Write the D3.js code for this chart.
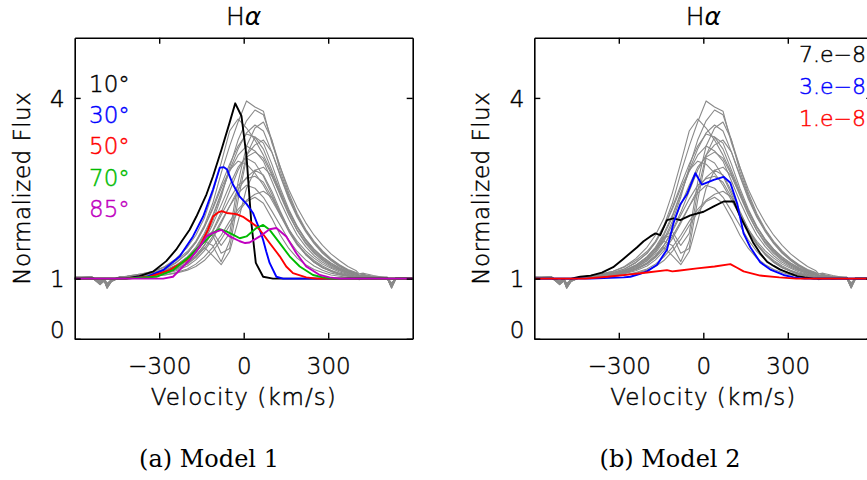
<!DOCTYPE html>
<html>
<head>
<meta charset="utf-8">
<script src="https://cdn.jsdelivr.net/npm/d3@7"></script>
<style>
  body { margin: 0; background: #fff; }
  svg { display: block; }
  text { font-family: "DejaVu Sans", sans-serif; font-weight: 200; }
</style>
</head>
<body>
<svg id="chart" width="867" height="480"></svg>
<script>
// ---------- axes ----------
const velocityDomain = [-600, 600];
const fluxDomain = [0, 5];
const velocityTicks = [-300, 0, 300];
const fluxTicks = [0, 1, 4];

// ---------- observed Hα spectra (shared velocity grid, km/s) ----------
const obsVelocity = [-600,-540,-510,-495,-485,-470,-440,
  -400,-360,-320,-280,-240,-200,-170,-140,-110,-80,-50,-20,10,40,70,100,130,160,190,220,250,280,310,340,370,400,410,425,460,
  510,525,540,600];

const spec01 = [1.01,1.02,0.92,0.97,0.86,0.96,1.02, 1.05,1.08,1.12,1.19,1.30,1.45,1.62,1.88,2.25,2.75,3.20,3.60,3.95,3.85,3.78,3.25,2.85,2.48,2.18,1.93,1.72,1.55,1.41,1.30,1.20,1.13,1.08,1.09,1.05, 1.01,0.86,1.00,1.00];
const spec02 = [1.02,1.01,0.95,0.99,0.90,0.98,1.03, 1.03,1.05,1.08,1.12,1.20,1.32,1.45,1.65,1.95,2.35,2.85,3.30,3.62,3.80,3.72,3.30,2.78,2.38,2.05,1.80,1.60,1.44,1.32,1.22,1.14,1.09,1.05,1.06,1.03, 1.02,0.90,1.01,1.01];
const spec03 = [1.00,1.03,0.90,0.96,0.84,0.95,1.01, 1.05,1.08,1.12,1.20,1.33,1.52,1.72,2.00,2.42,2.92,3.45,3.65,3.50,3.30,3.05,2.75,2.42,2.12,1.86,1.65,1.49,1.36,1.26,1.18,1.12,1.08,1.04,1.06,1.03, 1.00,0.84,0.99,1.00];
const spec04 = [1.01,1.01,0.94,1.00,0.89,0.97,1.02, 1.04,1.06,1.09,1.14,1.22,1.35,1.50,1.72,2.02,2.40,2.80,3.15,3.42,3.55,3.45,3.10,2.70,2.32,2.02,1.78,1.58,1.42,1.30,1.20,1.13,1.08,1.05,1.05,1.02, 1.01,0.92,1.00,1.01];
const spec05 = [1.02,1.02,0.91,0.98,0.87,0.95,1.02, 1.04,1.07,1.10,1.16,1.26,1.42,1.60,1.85,2.18,2.55,2.90,3.20,3.40,3.35,3.15,2.80,2.45,2.12,1.85,1.63,1.46,1.33,1.23,1.15,1.10,1.06,1.03,1.04,1.02, 1.02,0.88,1.01,1.00];
const spec06 = [1.01,1.03,0.93,0.97,0.85,0.97,1.01, 1.02,1.04,1.06,1.10,1.16,1.26,1.38,1.55,1.80,2.10,2.45,2.80,3.05,3.22,3.30,3.10,2.72,2.35,2.04,1.80,1.60,1.44,1.31,1.21,1.14,1.09,1.05,1.06,1.03, 1.00,0.85,1.00,1.01];
const spec07 = [1.00,1.02,0.96,0.99,0.91,0.98,1.02, 1.03,1.05,1.08,1.13,1.22,1.36,1.52,1.75,2.05,2.42,2.78,3.05,3.20,3.12,2.95,2.62,2.28,1.98,1.72,1.53,1.38,1.27,1.19,1.13,1.08,1.05,1.02,1.03,1.01, 1.01,0.91,1.00,1.00];
const spec08 = [1.02,1.01,0.92,0.96,0.88,0.96,1.03, 1.03,1.05,1.07,1.11,1.18,1.29,1.42,1.62,1.90,2.22,2.55,2.85,3.02,3.10,3.00,2.72,2.38,2.06,1.80,1.60,1.44,1.32,1.23,1.16,1.10,1.06,1.03,1.04,1.02, 1.02,0.87,1.01,1.01];
const spec09 = [1.01,1.02,0.94,0.98,0.86,0.97,1.02, 1.04,1.06,1.10,1.16,1.27,1.42,1.60,1.85,2.15,2.50,2.80,2.95,2.90,2.75,2.55,2.30,2.05,1.82,1.62,1.46,1.34,1.24,1.17,1.11,1.07,1.04,1.01,1.02,1.01, 1.00,0.89,1.00,1.00];
const spec10 = [1.01,1.01,0.95,1.00,0.90,0.98,1.01, 1.02,1.03,1.05,1.08,1.13,1.21,1.31,1.46,1.66,1.92,2.20,2.48,2.68,2.80,2.85,2.70,2.40,2.08,1.80,1.58,1.42,1.30,1.21,1.14,1.09,1.06,1.02,1.03,1.02, 1.01,0.93,1.00,1.01];
const spec11 = [1.02,1.02,0.90,0.97,0.84,0.96,1.02, 1.03,1.04,1.06,1.10,1.16,1.26,1.38,1.55,1.78,2.05,2.32,2.55,2.66,2.70,2.60,2.35,2.05,1.78,1.56,1.40,1.28,1.19,1.13,1.08,1.05,1.03,1.00,1.01,1.00, 1.00,0.85,1.00,1.00];
const spec12 = [1.01,1.03,0.94,0.99,0.89,0.97,1.01, 1.03,1.04,1.06,1.09,1.15,1.24,1.35,1.50,1.70,1.95,2.20,2.42,2.55,2.50,2.35,2.12,1.88,1.64,1.45,1.31,1.21,1.14,1.09,1.06,1.04,1.02,0.99,1.01,1.00, 1.01,0.90,1.01,1.00];
const spec13 = [1.00,1.02,0.93,0.98,0.87,0.96,1.02, 1.02,1.03,1.04,1.06,1.10,1.16,1.24,1.36,1.52,1.72,1.95,2.15,2.30,2.40,2.45,2.35,2.10,1.82,1.58,1.40,1.27,1.18,1.12,1.07,1.04,1.03,1.00,1.01,1.00, 1.00,0.87,1.00,1.00];
const spec14 = [1.01,1.01,0.96,1.00,0.92,0.98,1.01, 1.02,1.03,1.04,1.06,1.09,1.14,1.20,1.30,1.45,1.65,1.88,2.10,2.28,2.35,2.25,2.00,1.72,1.50,1.34,1.23,1.15,1.10,1.06,1.04,1.02,1.01,0.98,1.00,1.00, 1.01,0.92,1.00,1.00];
const spec15 = [1.02,1.02,0.91,0.97,0.85,0.95,1.02, 1.03,1.05,1.08,1.13,1.22,1.36,1.50,1.62,1.55,1.28,1.62,2.45,3.05,3.35,3.25,2.90,2.50,2.15,1.87,1.65,1.48,1.35,1.25,1.17,1.11,1.07,1.04,1.05,1.02, 1.01,0.86,1.00,1.01];
const spec16 = [1.01,1.02,0.93,0.98,0.88,0.97,1.02, 1.02,1.04,1.06,1.10,1.18,1.30,1.45,1.68,1.72,1.42,1.50,2.30,3.00,2.92,2.70,2.40,2.08,1.80,1.58,1.42,1.30,1.21,1.14,1.09,1.06,1.03,1.00,1.02,1.01, 1.00,0.89,1.00,1.00];
const spec17 = [1.00,1.01,0.95,0.99,0.90,0.97,1.01, 1.03,1.04,1.06,1.09,1.15,1.24,1.36,1.52,1.38,1.23,1.45,1.95,2.50,2.80,2.72,2.45,2.12,1.82,1.58,1.40,1.27,1.18,1.12,1.08,1.05,1.03,1.00,1.01,1.00, 1.01,0.91,1.01,1.00];
const spec18 = [1.02,1.03,0.92,0.96,0.86,0.96,1.02, 1.03,1.05,1.08,1.12,1.20,1.33,1.48,1.70,1.78,1.55,1.75,2.60,3.20,3.50,3.60,3.30,2.85,2.42,2.08,1.82,1.62,1.46,1.33,1.23,1.15,1.10,1.06,1.07,1.03, 1.01,0.87,1.00,1.00];

const obsSpectra = [spec01, spec02, spec03, spec04, spec05, spec06, spec07, spec08, spec09,
  spec10, spec11, spec12, spec13, spec14, spec15, spec16, spec17, spec18];

// ---------- Model 1: inclination series ----------
const m1Labels = ["10°", "30°", "50°", "70°", "85°"];
const m1Colors = ["#000000", "#0000ff", "#ff0000", "#00bb00", "#c000c0"];

const m1Vel10 = [-600,-420,-370,-320,-275,-240,-220,-192,-168,-132,-109,-79,-50,-30,-8,10,27,43,69,104,600];
const m1Flux10 = [1.0,1.0,1.04,1.12,1.29,1.48,1.62,1.81,2.03,2.40,2.70,3.14,3.59,3.91,3.70,3.03,1.93,1.26,1.03,1.0,1.0];

const m1Vel30 = [-600,-420,-345,-286,-227,-180,-144,-109,-85,-70,-59,-40,-14,10,33,57,69,80,92,116,140,600];
const m1Flux30 = [1.0,1.0,1.03,1.14,1.37,1.70,2.03,2.48,2.84,2.85,2.81,2.58,2.36,2.24,2.09,1.81,1.64,1.45,1.26,1.03,1.0,1.0];

const m1Vel50 = [-600,-420,-334,-263,-203,-156,-127,-109,-90,-78,-60,-26,0,21,45,57,92,128,151,175,222,260,600];
const m1Flux50 = [1.0,1.0,1.03,1.14,1.31,1.53,1.81,2.03,2.10,2.12,2.09,2.07,2.02,1.95,1.87,1.81,1.59,1.37,1.20,1.09,1.02,1.0,1.0];

const m1Vel70 = [-600,-420,-310,-251,-192,-144,-109,-85,-60,-38,-14,10,45,69,92,128,163,199,246,281,317,600];
const m1Flux70 = [1.0,1.0,1.03,1.14,1.37,1.59,1.76,1.82,1.78,1.73,1.67,1.70,1.84,1.89,1.81,1.59,1.37,1.20,1.06,1.02,1.0,1.0];

const m1Vel85 = [-600,-286,-251,-192,-156,-132,-109,-79,-50,-14,5,21,57,92,116,151,187,222,270,305,340,600];
const m1Flux85 = [1.0,1.0,1.03,1.31,1.53,1.70,1.76,1.81,1.70,1.62,1.59,1.60,1.70,1.82,1.84,1.70,1.42,1.20,1.06,1.02,1.0,1.0];

// ---------- Model 2: mass-loss series ----------
const m2Labels = ["7.e\u22128", "3.e\u22128", "1.e\u22128"];
const m2Colors = ["#000000", "#0000ff", "#ff0000"];

const m2Vel7 = [-600,-470,-437,-400,-360,-320,-283,-235,-212,-188,-170,-153,-129,-106,-82,-46,1,37,72,108,131,155,178,202,226,250,273,300,333,360,392,600];
const m2Flux7 = [1.0,1.0,1.03,1.05,1.10,1.19,1.33,1.52,1.62,1.70,1.75,1.72,1.97,2.0,1.97,2.05,2.11,2.2,2.28,2.28,2.03,1.81,1.59,1.42,1.28,1.21,1.15,1.10,1.04,1.02,1.0,1.0];

const m2Vel3 = [-600,-400,-283,-259,-224,-200,-164,-153,-129,-106,-82,-58,-28,-5,37,72,96,120,143,167,202,238,285,321,360,600];
const m2Flux3 = [1.0,1.0,1.02,1.03,1.08,1.12,1.23,1.31,1.48,1.92,2.23,2.40,2.75,2.56,2.64,2.69,2.59,2.25,1.75,1.52,1.27,1.15,1.06,1.02,1.0,1.0];

const m2Vel1 = [-600,-420,-340,-259,-200,-129,-110,-90,-22,40,96,120,143,202,270,330,600];
const m2Flux1 = [1.0,1.0,1.03,1.07,1.10,1.14,1.12,1.13,1.17,1.20,1.24,1.18,1.12,1.05,1.02,1.0,1.0];

// ---------- layout ----------
const svg = d3.select("#chart");
const plotW = 338, plotTop = 37.7, plotBottom = 338.8;
const fontPx = 23;

const minusFmt = d => (d < 0 ? "\u2212" + Math.abs(d) : String(d));

function pairs(vs, fs) { return vs.map((v, i) => [v, fs[i]]); }

// thin sans labels get a hairline outline in their own colour so they read darker
function inkText(sel) {
  sel.each(function () {
    const el = d3.select(this);
    const c = el.attr("fill") || "#000";
    el.attr("stroke", c).attr("stroke-width", 0.45).attr("paint-order", "fill");
  });
}

function drawPanel(opt) {
  const x = d3.scaleLinear().domain(velocityDomain).range([opt.x0, opt.x0 + plotW]);
  const y = d3.scaleLinear().domain(fluxDomain).range([plotBottom, plotTop]);
  const g = svg.append("g");

  const clipId = "clip-" + opt.id;
  g.append("clipPath").attr("id", clipId)
    .append("rect").attr("x", opt.x0).attr("y", plotTop)
    .attr("width", plotW).attr("height", plotBottom - plotTop);

  const line = d3.line().x(d => x(d[0])).y(d => y(d[1]));
  const plot = g.append("g").attr("clip-path", `url(#${clipId})`);

  // observed spectra
  plot.selectAll("path.obs").data(obsSpectra).join("path")
    .attr("class", "obs")
    .attr("d", s => line(pairs(obsVelocity, s)))
    .attr("fill", "none").attr("stroke", "#8a8a8a").attr("stroke-width", 1.1)
    .attr("stroke-linejoin", "round");

  // model profiles
  plot.selectAll("path.model").data(opt.models).join("path")
    .attr("class", "model")
    .attr("d", m => line(pairs(m.v, m.f)))
    .attr("fill", "none").attr("stroke", m => m.color).attr("stroke-width", 1.9)
    .attr("stroke-linejoin", "round");

  // axes with inward ticks on all four sides
  const axStyle = a => {
    a.selectAll("path.domain").attr("stroke", "#000").attr("stroke-width", 1.6);
    a.selectAll(".tick line").attr("stroke", "#000").attr("stroke-width", 1.4);
    a.selectAll("text").attr("fill", "#000").style("font-size", fontPx + "px")
      .attr("font-family", "DejaVu Sans, sans-serif").attr("font-weight", 200)
      .call(inkText);
  };

  g.append("g").attr("transform", `translate(0,${plotBottom})`)
    .call(d3.axisBottom(x).tickValues(velocityTicks).tickSizeInner(-6).tickSizeOuter(0)
      .tickPadding(19).tickFormat(minusFmt))
    .call(axStyle);
  g.append("g").attr("transform", `translate(0,${plotTop})`)
    .call(d3.axisTop(x).tickValues(velocityTicks).tickSizeInner(-6).tickSizeOuter(0).tickFormat(""))
    .call(axStyle);
  const left = g.append("g").attr("transform", `translate(${opt.x0},0)`)
    .call(d3.axisLeft(y).tickValues(fluxTicks).tickSizeInner(-6).tickSizeOuter(0)
      .tickPadding(10).tickFormat(d3.format("d")))
    .call(axStyle);
  left.selectAll(".tick").filter(d => d === 0).select("text").attr("dy", "-0.05em");
  left.selectAll(".tick").filter(d => d !== 0).select("text").attr("dy", "0.36em");
  g.append("g").attr("transform", `translate(${opt.x0 + plotW},0)`)
    .call(d3.axisRight(y).tickValues(fluxTicks).tickSizeInner(-6).tickSizeOuter(0).tickFormat(""))
    .call(axStyle);

  const cx = opt.x0 + plotW / 2;
  // title
  const t = g.append("text").attr("x", cx).attr("y", 25).attr("text-anchor", "middle")
    .style("font-size", "25px").attr("fill", "#000").call(inkText);
  t.append("tspan").text("H");
  t.append("tspan").attr("font-style", "italic").attr("stroke", "none").text("\u03b1");

  // axis titles
  g.append("text").attr("x", cx).attr("y", 405).attr("text-anchor", "middle")
    .style("font-size", fontPx + "px").style("letter-spacing", "1px").attr("fill", "#000")
    .text("Velocity (km/s)").call(inkText);
  g.append("text")
    .attr("transform", `translate(${opt.x0 - 45},${(plotTop + plotBottom) / 2}) rotate(-90)`)
    .attr("text-anchor", "middle").style("font-size", fontPx + "px").style("letter-spacing", "0.5px")
    .attr("fill", "#000").text("Normalized Flux").call(inkText);

  // legend
  g.selectAll("text.legend").data(opt.models).join("text")
    .attr("class", "legend")
    .attr("x", opt.legendX).attr("y", (d, i) => opt.legendY + i * opt.legendStep)
    .attr("text-anchor", opt.legendAnchor)
    .style("font-size", opt.legendFont + "px").attr("fill", d => d.color)
    .text(d => d.label).call(inkText);

  // caption
  g.append("text").attr("x", opt.captionX).attr("y", 467).attr("text-anchor", "middle")
    .style("font-family", "DejaVu Serif, serif").style("font-weight", 400)
    .style("font-size", "24px").attr("fill", "#000").text(opt.caption);
}

drawPanel({
  id: "m1", x0: 74.7, caption: "(a) Model 1", captionX: 209,
  legendX: 89, legendY: 92, legendStep: 31.2, legendAnchor: "start", legendFont: fontPx,
  models: [
    { label: m1Labels[0], color: m1Colors[0], v: m1Vel10, f: m1Flux10 },
    { label: m1Labels[1], color: m1Colors[1], v: m1Vel30, f: m1Flux30 },
    { label: m1Labels[2], color: m1Colors[2], v: m1Vel50, f: m1Flux50 },
    { label: m1Labels[3], color: m1Colors[3], v: m1Vel70, f: m1Flux70 },
    { label: m1Labels[4], color: m1Colors[4], v: m1Vel85, f: m1Flux85 }
  ]
});

drawPanel({
  id: "m2", x0: 534.3, caption: "(b) Model 2", captionX: 670,
  legendX: 866, legendY: 62, legendStep: 32, legendAnchor: "end", legendFont: 22,
  models: [
    { label: m2Labels[0], color: m2Colors[0], v: m2Vel7, f: m2Flux7 },
    { label: m2Labels[1], color: m2Colors[1], v: m2Vel3, f: m2Flux3 },
    { label: m2Labels[2], color: m2Colors[2], v: m2Vel1, f: m2Flux1 }
  ]
});
</script>
</body>
</html>
